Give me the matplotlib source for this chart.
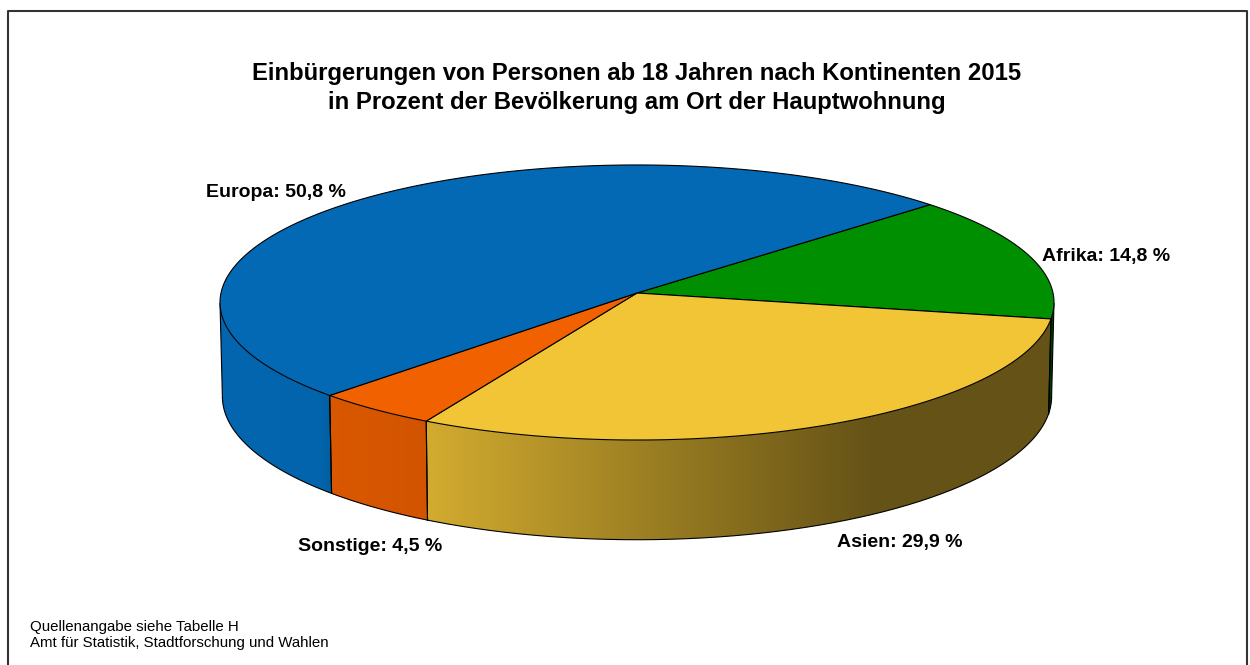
import numpy as np
import matplotlib
matplotlib.use("Agg")
import matplotlib.pyplot as plt
from matplotlib.patches import Polygon
from matplotlib.colors import to_rgb

plt.rcParams['font.family'] = ['Liberation Sans', 'DejaVu Sans']

# ---------------- data ----------------
categories = ["Afrika", "Asien", "Sonstige", "Europa"]   # clockwise from start angle
values = [14.8, 29.9, 4.5, 50.8]
colors = ["#008F00", "#F2C536", "#F26100", "#0369B4"]
title_lines = ["Einbürgerungen von Personen ab 18 Jahren nach Kontinenten 2015",
               "in Prozent der Bevölkerung am Ort der Hauptwohnung"]
footer_lines = ["Quellenangabe siehe Tabelle H",
                "Amt für Statistik, Stadtforschung und Wahlen"]

# ---------------- layout ----------------
W, H_PX = 1250, 665
cx, cy = 637.0, 293.0          # screen position of pie centre
f = 416.0                      # radius scale
sin_a = 0.329
alpha = np.arcsin(sin_a)
L = 13.7                       # camera distance (perspective)
depth = 0.24                   # pie thickness
start_angle = 42.5
label_pos = {"Europa": (206, 197), "Afrika": (1042, 261),
             "Asien": (837, 547), "Sonstige": (298, 551)}

fig = plt.figure(figsize=(W / 100, H_PX / 100), dpi=100)
ax = fig.add_axes([0, 0, 1, 1])
ax.set_xlim(0, W)
ax.set_ylim(H_PX, 0)
ax.axis('off')


def proj(phi_deg, z=0.0):
    p = np.radians(phi_deg)
    u, v = np.cos(p), np.sin(p)
    s = v * np.sin(alpha) + z * np.cos(alpha)
    w = v * np.cos(alpha) - z * np.sin(alpha)
    d = 1 + w / L
    return cx + f * u / d, cy - f * s / d


def arc(a1, a2, z=0.0, n=None):
    if n is None:
        n = max(2, int(abs(a2 - a1) * 2) + 2)
    t = np.linspace(a1, a2, n)
    x, y = proj(t, z)
    return np.column_stack([x, y])


# slice boundaries (clockwise)
fracs = np.array(values) / np.sum(values)
edges = start_angle - np.concatenate([[0], np.cumsum(fracs) * 360])

# silhouette angles of the side wall
ds = np.degrees(np.arcsin(1.0 / (L * np.cos(alpha))))
vis_lo, vis_hi = 180 + ds, 360 - ds

# shading as function of screen x for side walls
shade_x = [200, 320, 330, 425, 870, 1100]
shade_f = [0.975, 0.955, 0.90, 0.87, 0.42, 0.42]

xs_img = np.arange(0, W)
fac = np.interp(xs_img, shade_x, shade_f)

for cat, col, a_hi, a_lo in zip(categories, colors, edges[:-1], edges[1:]):
    base = np.array(to_rgb(col))
    for off in (-360, 0, 360):
        lo = max(a_lo + off, vis_lo)
        hi = min(a_hi + off, vis_hi)
        if hi <= lo:
            continue
        top = arc(lo, hi, 0.0)
        bot = arc(hi, lo, -depth)
        poly = np.vstack([top, bot])
        patch = Polygon(poly, closed=True, facecolor='none', edgecolor='none')
        ax.add_patch(patch)
        img = (base[None, None, :] * fac[None, :, None]).clip(0, 1)
        im = ax.imshow(img, extent=(0, W, H_PX, 0), aspect='auto',
                       interpolation='bilinear', zorder=1)
        im.set_clip_path(patch)
        # outline of wall
        ax.plot(bot[:, 0], bot[:, 1], color='black', lw=0.8, zorder=3)
        for a in (lo, hi):
            x0, y0 = proj(a, 0.0)
            x1, y1 = proj(a, -depth)
            ax.plot([x0, x1], [y0, y1], color='black', lw=0.8, zorder=3)

ax.set_xlim(0, W)
ax.set_ylim(H_PX, 0)

# top faces
for cat, col, a_hi, a_lo in zip(categories, colors, edges[:-1], edges[1:]):
    pts = np.vstack([[cx, cy], arc(a_lo, a_hi, 0.0)])
    ax.add_patch(Polygon(pts, closed=True, facecolor=col, edgecolor='black',
                         lw=0.8, joinstyle='round', zorder=4))

# labels
for cat, val in zip(categories, values):
    x, y = label_pos[cat]
    txt = f"{cat}: {val:.1f}".replace(".", ",") + " %"
    ax.text(x, y, txt, ha='left', va='baseline', fontsize=14,
            fontweight='bold', color='black', zorder=6)

# title
ax.text(637, 80, title_lines[0], ha='center', va='baseline', fontsize=17.2,
        fontweight='bold')
ax.text(637, 109, title_lines[1], ha='center', va='baseline', fontsize=17.2,
        fontweight='bold')

# footer
ax.text(30, 631, footer_lines[0], ha='left', va='baseline', fontsize=10.8)
ax.text(30, 647, footer_lines[1], ha='left', va='baseline', fontsize=10.8)

# frame
ax.plot([8, 8, 1247, 1247], [680, 11, 11, 680], color='#333333', lw=1.5,
        zorder=7, clip_on=False)

fig.savefig("out.png", dpi=100)
